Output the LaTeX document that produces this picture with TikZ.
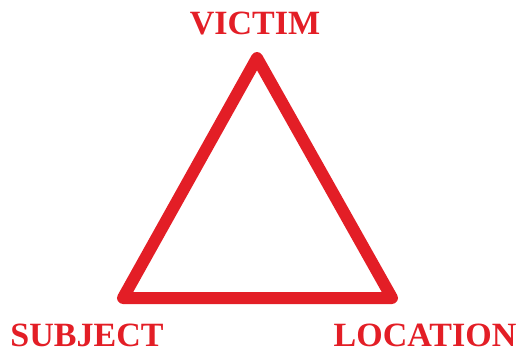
\documentclass[tikz,border=0pt]{standalone}
\usepackage{fontspec}
\setmainfont{Liberation Serif}
\definecolor{tri}{HTML}{E31E26}
\begin{document}
\begin{tikzpicture}[x=1pt,y=-1pt,
  lbl/.style={text=tri, font=\fontsize{34}{40}\selectfont\bfseries, anchor=base, inner sep=0pt},
  edge/.style={draw=tri, line width=12pt, line join=round, line cap=round}]
\useasboundingbox (0,0) rectangle (523,354);
\coordinate (v) at (257,58);
\coordinate (s) at (123,298);
\coordinate (l) at (392,298);
\draw[edge] (v) -- (s) -- (l) -- cycle;
\node[lbl] (victim) at (255,34) {VICTIM};
\node[lbl] (subject) at (87,346) {SUBJECT};
\node[lbl] (location) at (425,346) {LOCATION};
\end{tikzpicture}
\end{document}
